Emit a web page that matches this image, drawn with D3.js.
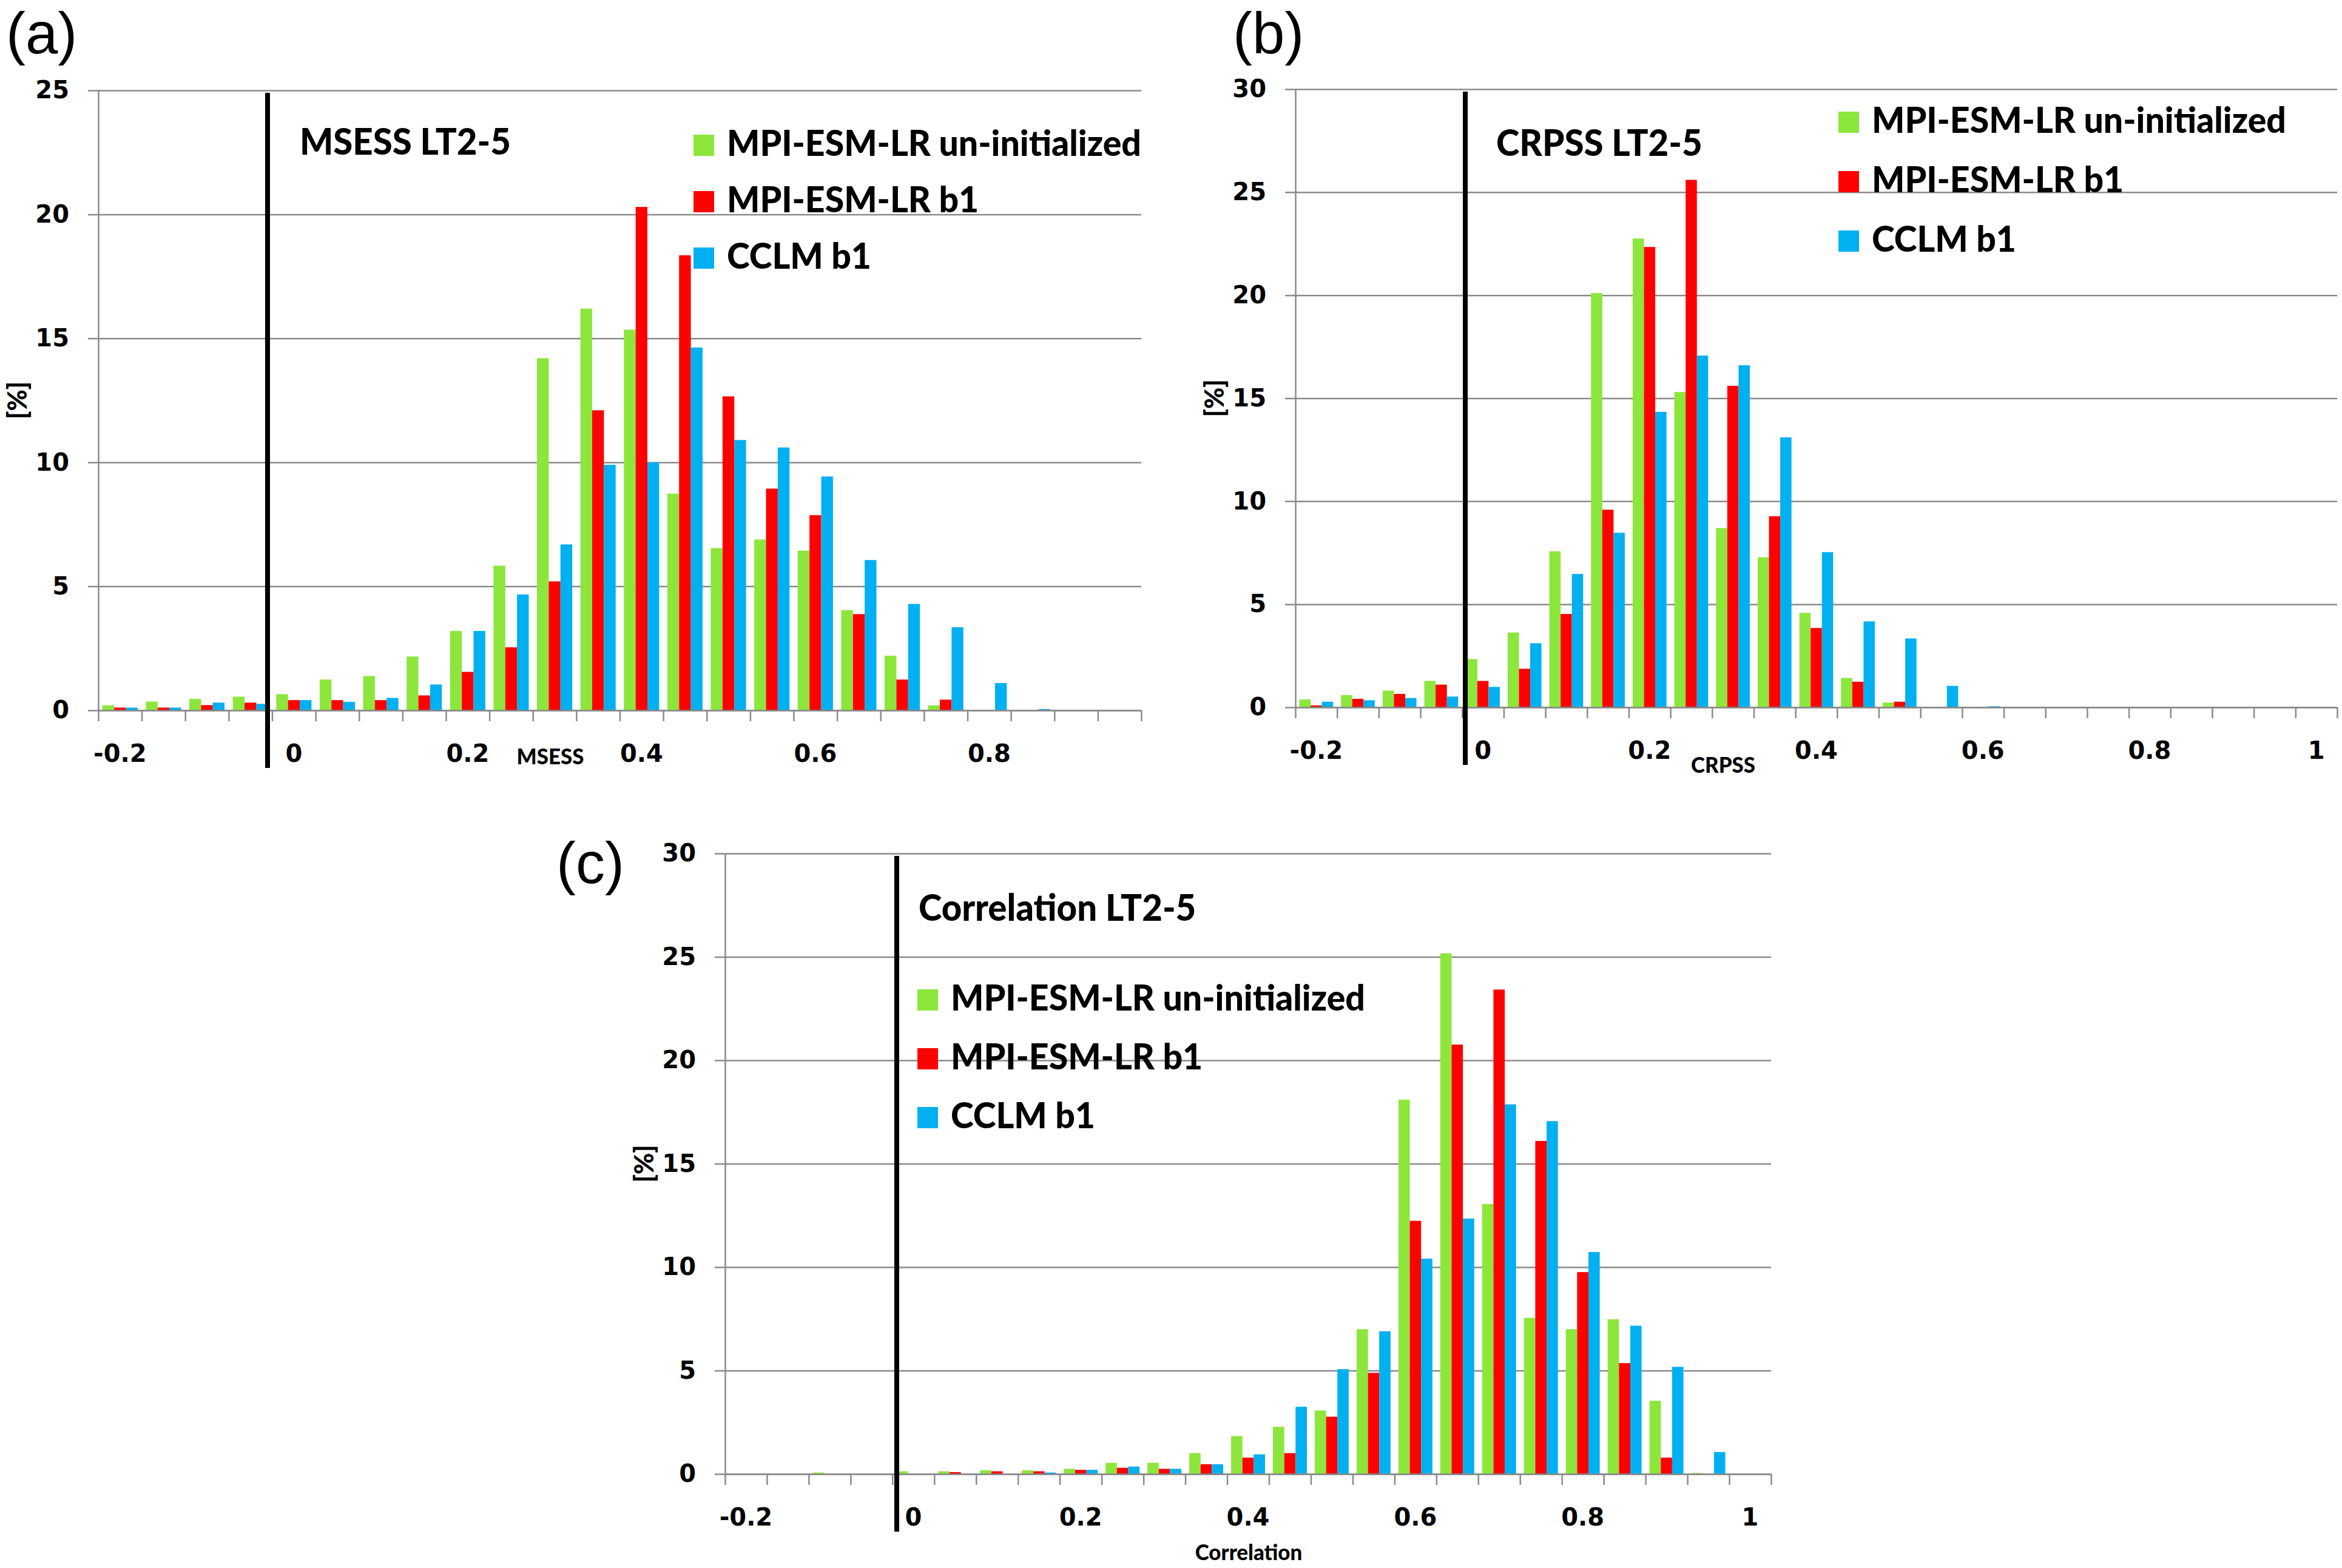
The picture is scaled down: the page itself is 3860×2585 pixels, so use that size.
<!DOCTYPE html>
<html>
<head>
<meta charset="utf-8">
<script src="https://cdn.jsdelivr.net/npm/d3@7"></script>
<style>
  body { margin: 0; background: #fff; }
  svg { display: block; }
</style>
</head>
<body>
<div id="chart"></div>
<script>
// bins of the skill score (category axis, one bin = 0.05)
const catsA = ["-0.2","-0.15","-0.1","-0.05","0","0.05","0.1","0.15","0.2","0.25","0.3","0.35",
  "0.4","0.45","0.5","0.55","0.6","0.65","0.7","0.75","0.8","0.85","0.9","0.95"];
const catsBC = ["-0.2","-0.15","-0.1","-0.05","0","0.05","0.1","0.15","0.2","0.25","0.3","0.35",
  "0.4","0.45","0.5","0.55","0.6","0.65","0.7","0.75","0.8","0.85","0.9","0.95","1"];
const labelsA = ["-0.2","0","0.2","0.4","0.6","0.8"];
const labelsBC = ["-0.2","0","0.2","0.4","0.6","0.8","1"];
const yTicksA = [0, 5, 10, 15, 20, 25];
const yTicksBC = [0, 5, 10, 15, 20, 25, 30];

const seriesNames = ["MPI-ESM-LR un-initialized", "MPI-ESM-LR b1", "CCLM b1"];
const seriesColors = ["#8ce63c", "#ff0000", "#00b0f0"];

// (a) MSESS LT2-5, [%]
const msessUninit = [0.2,0.35,0.46,0.55,0.65,1.24,1.38,2.17,3.2,5.83,14.2,16.2,15.35,8.74,6.54,6.89,6.44,4.04,2.2,0.2,0,0,0,0];
const msessB1     = [0.11,0.11,0.21,0.31,0.41,0.41,0.41,0.6,1.55,2.54,5.2,12.1,20.3,18.35,12.66,8.94,7.87,3.88,1.24,0.43,0,0,0,0];
const msessCclm   = [0.11,0.11,0.31,0.26,0.41,0.34,0.5,1.04,3.2,4.67,6.69,9.9,10.0,14.63,10.9,10.6,9.43,6.06,4.29,3.35,1.1,0.05,0,0];

// (b) CRPSS LT2-5, [%]
const crpssUninit = [0.38,0.59,0.81,1.28,2.34,3.63,7.57,20.1,22.75,15.3,8.7,7.28,4.58,1.42,0.23,0,0,0,0,0,0,0,0,0,0];
const crpssB1     = [0.09,0.41,0.65,1.1,1.28,1.87,4.53,9.59,22.34,25.6,15.6,9.27,3.85,1.24,0.27,0,0,0,0,0,0,0,0,0,0];
const crpssCclm   = [0.27,0.34,0.45,0.52,0.99,3.11,6.47,8.47,14.34,17.07,16.6,13.1,7.53,4.17,3.34,1.04,0.05,0,0,0,0,0,0,0,0];

// (c) Correlation LT2-5, [%]
const corrUninit = [0,0,0.07,0,0.13,0.13,0.18,0.18,0.25,0.54,0.54,1.01,1.83,2.28,3.07,7.0,18.1,25.17,13.05,7.55,7.0,7.48,3.54,0.05,0];
const corrB1     = [0,0,0,0,0,0.09,0.13,0.13,0.2,0.3,0.25,0.47,0.79,1.01,2.77,4.89,12.24,20.76,23.42,16.1,9.76,5.36,0.79,0,0];
const corrCclm   = [0,0,0,0,0,0,0,0.07,0.2,0.36,0.25,0.47,0.95,3.25,5.07,6.9,10.41,12.35,17.87,17.06,10.73,7.17,5.18,1.06,0];

// layout of the three panels
const panels = [
  { tag: "(a)", tagX: 10, tagY: 88, title: "MSESS LT2-5", xTitle: "MSESS",
    cats: catsA, labels: labelsA, yMax: 25, yTicks: yTicksA, values: [msessUninit, msessB1, msessCclm],
    left: 162, right: 1881, top: 149, bottom: 1171, zeroShift: -0.105,
    titleX: 332, titleY: 106, legX: 981, legY: 108, legStep: 93, xTitleX: 745, xTitleY: 89 },
  { tag: "(b)", tagX: 2032, tagY: 88, title: "CRPSS LT2-5", xTitle: "CRPSS",
    cats: catsBC, labels: labelsBC, yMax: 30, yTicks: yTicksBC, values: [crpssUninit, crpssB1, crpssCclm],
    left: 2135, right: 3852, top: 147, bottom: 1166, zeroShift: 0.077,
    titleX: 331, titleY: 110, legX: 895, legY: 72, legStep: 98, xTitleX: 705, xTitleY: 108 },
  { tag: "(c)", tagX: 917, tagY: 1456, title: "Correlation LT2-5", xTitle: "Correlation",
    cats: catsBC, labels: labelsBC, yMax: 30, yTicks: yTicksBC, values: [corrUninit, corrB1, corrCclm],
    left: 1195, right: 2919, top: 1407, bottom: 2430, zeroShift: 0.104,
    titleX: 319, titleY: 111, legX: 317, legY: 259, legStep: 97, xTitleX: 863, xTitleY: 142 }
];

const W = 3860, H = 2585;
const grid = "#8a8a8a";
const labelWeight = 900;

const svg = d3.select("#chart").append("svg")
  .attr("width", W)
  .attr("height", H);
svg.append("rect").attr("width", W).attr("height", H).attr("fill", "#fff");

// the original text is a narrow heavy face: squeeze Lato to the measured legend width
const probe = svg.append("text")
  .attr("font-family", "Lato").attr("font-weight", labelWeight).attr("font-size", 59)
  .text(seriesNames[0]);
const sx = 683 / probe.node().getComputedTextLength();
probe.remove();

// d3.axis resets the font on its group, so style the tick text afterwards
function tickFont(a) {
  a.attr("font-family", "DejaVu Sans")
    .attr("font-size", 40)
    .attr("font-weight", "bold");
  a.selectAll(".tick text").attr("fill", "#000");
}

panels.forEach(p => {
  const g = svg.append("g");
  const w = p.right - p.left;

  const x = d3.scaleBand().domain(p.cats).range([p.left, p.right]);
  const xs = d3.scaleBand().domain(seriesNames).range([0, x.bandwidth()]).paddingOuter(0.35);
  const y = d3.scaleLinear().domain([0, p.yMax]).range([p.bottom, p.top]);
  const xb = d3.scaleLinear().domain([0, p.cats.length]).range([p.left, p.right]);

  // gridlines, y axis and its labels
  g.append("g")
    .attr("transform", `translate(${p.left},0)`)
    .call(d3.axisLeft(y).tickValues(p.yTicks).tickSize(-w).tickSizeOuter(0).tickPadding(48))
    .call(a => a.select(".domain").attr("stroke", grid).attr("stroke-width", 2.5))
    .call(a => a.selectAll(".tick line").attr("x1", -17).attr("x2", w).attr("stroke", grid).attr("stroke-width", 2.5))
    .call(tickFont);

  // bars
  p.values.forEach((vals, i) => {
    g.append("g")
      .selectAll("rect")
      .data(vals.map((v, j) => ({ c: p.cats[j], v: v })))
      .join("rect")
      .attr("x", d => x(d.c) + xs(seriesNames[i]))
      .attr("y", d => y(d.v))
      .attr("width", xs.bandwidth())
      .attr("height", d => y(0) - y(d.v))
      .attr("fill", seriesColors[i]);
  });

  // category axis: a tick at every bin boundary
  g.append("g")
    .attr("transform", `translate(0,${p.bottom})`)
    .call(d3.axisBottom(xb).tickValues(d3.range(p.cats.length + 1)).tickSize(18).tickSizeOuter(0).tickFormat(""))
    .call(a => a.selectAll("line, path").attr("stroke", grid).attr("stroke-width", 2.5));

  // labels every fourth bin
  g.append("g")
    .attr("transform", `translate(0,${p.bottom})`)
    .call(d3.axisBottom(x).tickValues(p.labels).tickSize(0).tickPadding(57))
    .call(a => a.select(".domain").remove())
    .call(tickFont);

  // thick black line at zero skill
  const zx = x("0") + p.zeroShift * x.bandwidth();
  g.append("line")
    .attr("x1", zx).attr("x2", zx)
    .attr("y1", p.top + 4).attr("y2", p.bottom + 95)
    .attr("stroke", "#000")
    .attr("stroke-width", 8);

  // panel title inside the plot
  g.append("text")
    .attr("transform", `translate(${p.left + p.titleX},${p.top + p.titleY}) scale(${sx},1)`)
    .attr("font-family", "Lato").attr("font-weight", labelWeight).attr("font-size", 60)
    .attr("fill", "#000")
    .text(p.title);

  // legend
  const leg = g.append("g")
    .attr("transform", `translate(${p.left + p.legX},${p.top + p.legY})`);
  seriesNames.forEach((name, i) => {
    leg.append("rect")
      .attr("x", 0).attr("y", i * p.legStep - 35)
      .attr("width", 34).attr("height", 35)
      .attr("fill", seriesColors[i]);
    leg.append("text")
      .attr("transform", `translate(55,${i * p.legStep}) scale(${sx},1)`)
      .attr("font-family", "Lato").attr("font-weight", labelWeight).attr("font-size", 59)
      .attr("fill", "#000")
      .text(name);
  });

  // axis titles
  g.append("text")
    .attr("transform", `translate(${p.left - 135},${(p.top + p.bottom) / 2}) rotate(-90) scale(${sx},1)`)
    .attr("text-anchor", "middle")
    .attr("dominant-baseline", "central")
    .attr("font-family", "Lato").attr("font-weight", labelWeight).attr("font-size", 44)
    .attr("fill", "#000")
    .text("[%]");

  g.append("text")
    .attr("transform", `translate(${p.left + p.xTitleX},${p.bottom + p.xTitleY}) scale(${sx},1)`)
    .attr("text-anchor", "middle")
    .attr("font-family", "Lato").attr("font-weight", labelWeight).attr("font-size", 36)
    .attr("fill", "#000")
    .text(p.xTitle);

  // panel letter
  svg.append("text")
    .attr("x", p.tagX).attr("y", p.tagY)
    .attr("font-family", "Liberation Sans").attr("font-size", 96)
    .attr("fill", "#000")
    .text(p.tag);
});
</script>
</body>
</html>
